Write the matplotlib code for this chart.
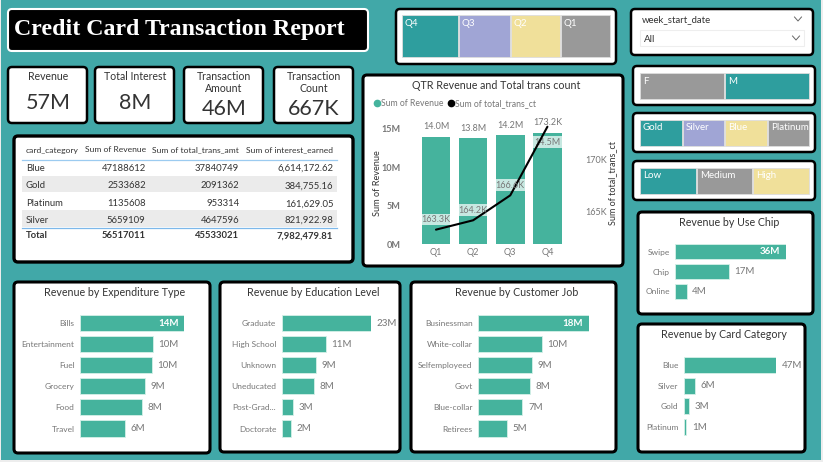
#!/usr/bin/env python3

import matplotlib
matplotlib.use("Agg")
import matplotlib.pyplot as plt
from matplotlib.lines import Line2D
from matplotlib.patches import FancyBboxPatch, Rectangle

W, H = 823, 462
TEAL_BG = "#41A8A8"
BAR = "#45B39D"
TILE_TEAL = "#2E9E9E"
TILE_PURPLE = "#A0A5D5"
TILE_YELLOW = "#F0E09A"
TILE_GREY = "#999999"
DARK = "#333333"
GREY = "#777777"

# data
quarters = ["Q1", "Q2", "Q3", "Q4"]
qtr_revenue = [14.0, 13.8, 14.2, 14.5]
qtr_trans_ct = [163.3, 164.2, 166.6, 173.2]

table_header = ["card_category", "Sum of Revenue", "Sum of total_trans_amt", "Sum of interest_earned"]
table_cards = ["Blue", "Gold", "Platinum", "Silver"]
table_revenue = [47188612, 2533682, 1135608, 5659109]
table_amount = [37840749, 2091362, 953314, 4647596]
table_interest = [6614172.62, 384755.16, 161629.05, 821922.98]
total_revenue = 56517011
total_amount = 45533021
total_interest = 7982479.81

kpi_names = ["Revenue", "Total Interest", "Transaction\nAmount", "Transaction\nCount"]
kpi_values = ["57M", "8M", "46M", "667K"]

expenditure = ["Bills", "Entertainment", "Fuel", "Grocery", "Food", "Travel"]
expenditure_rev = [14.0, 9.8, 9.7, 8.8, 8.4, 6.1]
education = ["Graduate", "High School", "Unknown", "Uneducated", "Post-Grad...", "Doctorate"]
education_rev = [23.0, 11.4, 8.8, 8.4, 2.9, 2.4]
jobs = ["Businessman", "White-collar", "Selfemployeed", "Govt", "Blue-collar", "Retirees"]
jobs_rev = [18.0, 10.4, 8.7, 8.4, 7.2, 4.7]
use_chip = ["Swipe", "Chip", "Online"]
use_chip_rev = [36.0, 17.4, 3.7]
card_cat = ["Blue", "Silver", "Gold", "Platinum"]
card_cat_rev = [47.2, 5.7, 2.6, 1.1]

plt.rcParams["font.family"] = ["Lato", "DejaVu Sans"]

fig = plt.figure(figsize=(W / 100, H / 100), dpi=100, facecolor="#EDEDED")
bg = fig.add_axes([0, 0, 1, 1], zorder=0)
bg.set_xlim(0, W)
bg.set_ylim(H, 0)
bg.axis("off")


def px_axes(x0, y0, x1, y1):
    ax = fig.add_axes([x0 / W, 1 - y1 / H, (x1 - x0) / W, (y1 - y0) / H], zorder=2)
    ax.patch.set_alpha(0)
    return ax


def panel(x0, y0, x1, y1, lw=2.2, edge="black", face="white", r=4):
    bg.add_patch(FancyBboxPatch((x0 + r, y0 + r), x1 - x0 - 2 * r, y1 - y0 - 2 * r,
                                boxstyle=f"round,pad={r},rounding_size={r}",
                                fc=face, ec=edge, lw=lw))


def tiles(x_edges, y0, y1, names, colors):
    for i, name in enumerate(names):
        bg.add_patch(Rectangle((x_edges[i], y0), x_edges[i + 1] - x_edges[i] - 1, y1 - y0,
                               fc=colors[i], ec="#DDDDDD", lw=0.6))
        bg.text(x_edges[i] + 3, y0 + 8, name, color="white", fontsize=7, va="center")


def chevron(x, y):
    bg.plot([x - 3.5, x, x + 3.5], [y - 2, y + 2, y - 2], color="#666666", lw=0.7)


def bar_panel(box, title, title_x, cats, vals, x0, x_max, y_first, y_last, inside_first=False):
    panel(*box)
    bg.text(title_x, box[1] + 10.5, title, color=DARK, fontsize=7.7, ha="center", va="center")
    n = len(cats)
    step = (y_last - y_first) / (n - 1)
    ax = px_axes(x0, y_first - step / 2, x_max, y_last + step / 2)
    ax.barh(range(n), vals, height=0.76, color=BAR, edgecolor="#D5F0E8", linewidth=0.6)
    ax.set_xlim(0, max(vals))
    ax.set_ylim(n - 0.5, -0.5)
    ax.set_yticks(range(n), cats)
    ax.set_xticks([])
    ax.tick_params(axis="y", length=0, pad=4, labelsize=6, labelcolor=GREY)
    for s in ax.spines.values():
        s.set_visible(False)
    for i, v in enumerate(vals):
        if i == 0 and inside_first:
            ax.annotate(f"{v:.0f}M", (v, i), xytext=(-4, 0), textcoords="offset points",
                        ha="right", va="center", color="white", fontsize=7, fontweight="bold")
        else:
            ax.annotate(f"{v:.0f}M", (v, i), xytext=(4, 0), textcoords="offset points",
                        ha="left", va="center", color=GREY, fontsize=7)


def draw_header():
    panel(8, 9, 368, 51, lw=1.5, edge="white", face="black")
    bg.text(14, 30, "Credit Card Transaction Report", color="white", fontsize=17.2,
            fontweight="bold", family="Liberation Serif", va="center")


def draw_kpis():
    lefts = [8, 95, 184, 274]
    for x, name, value in zip(lefts, kpi_names, kpi_values):
        panel(x, 67, x + 79, 123, lw=1.8)
        two_lines = "\n" in name
        bg.text(x + 40, 82.5 if two_lines else 76, name, color=DARK, fontsize=7.6, ha="center",
                va="center", linespacing=1.15)
        bg.text(x + 40, 109 if two_lines else 103, value, color=DARK, fontsize=15.5, ha="center",
                va="center")


def draw_table():
    panel(14, 136, 353, 262, lw=2.4)
    right = [145.7, 239.3, 333.3]
    rows = [168.5, 185.7, 203.7, 220.3]
    bg.text(25.7, 150, table_header[0], color=DARK, fontsize=6.1, va="center")
    for x, name in zip(right, table_header[1:]):
        bg.text(x, 150, name, color=DARK, fontsize=6.1, ha="right", va="center")
    for y0, y1 in [(176, 192), (210, 227)]:
        bg.add_patch(Rectangle((22, y0), 314.7, y1 - y0, fc="#EBEBEB", ec="none"))
    bg.plot([22, 336.7], [160.3, 160.3], color="#9CCBF0", lw=0.9)
    bg.plot([22, 336.7], [227.7, 227.7], color="#7DB8EA", lw=0.9)
    for i, y in enumerate(rows):
        bg.text(25.7, y, table_cards[i], color=DARK, fontsize=6.8, va="center")
        bg.text(right[0], y, str(table_revenue[i]), color=DARK, fontsize=6.8, ha="right", va="center")
        bg.text(right[1], y, str(table_amount[i]), color=DARK, fontsize=6.8, ha="right", va="center")
        bg.text(right[2], y, f"{table_interest[i]:,.2f}", color=DARK, fontsize=6.8, ha="right", va="center")
    bg.text(25.7, 235.7, "Total", color=DARK, fontsize=6.8, fontweight="bold", va="center")
    bg.text(right[0], 235.7, str(total_revenue), color=DARK, fontsize=6.8, fontweight="bold", ha="right", va="center")
    bg.text(right[1], 235.7, str(total_amount), color=DARK, fontsize=6.8, fontweight="bold", ha="right", va="center")
    bg.text(right[2], 235.7, f"{total_interest:,.2f}", color=DARK, fontsize=6.8, fontweight="bold", ha="right", va="center")


def draw_slicers():
    panel(396, 9, 616, 64, lw=1.8)
    tiles([402, 459, 511, 561, 611], 15, 57, ["Q4", "Q3", "Q2", "Q1"],
          [TILE_TEAL, TILE_PURPLE, TILE_YELLOW, TILE_GREY])

    panel(631, 9, 813, 55, lw=1.8)
    bg.text(642, 20, "week_start_date", color=DARK, fontsize=6.9, va="center")
    chevron(798, 19)
    bg.add_patch(Rectangle((640, 30), 164, 16, fc="white", ec="#EEEEEE", lw=0.8))
    bg.text(644, 39.5, "All", color=DARK, fontsize=7, va="center")
    chevron(796, 38)

    panel(633, 66, 815, 105, lw=1.8)
    tiles([640, 725, 810], 73, 99, ["F", "M"], [TILE_GREY, TILE_TEAL])
    panel(633, 113, 815, 152, lw=1.8)
    tiles([640, 683, 725, 768, 810], 120, 146, ["Gold", "Silver", "Blue", "Platinum"],
          [TILE_TEAL, TILE_PURPLE, TILE_YELLOW, TILE_GREY])
    panel(633, 161, 815, 200, lw=1.8)
    tiles([640, 697, 753, 810], 168, 194, ["Low", "Medium", "High"],
          [TILE_TEAL, TILE_GREY, TILE_YELLOW])


def draw_combo():
    panel(363, 75, 623, 266, lw=2.2)
    bg.text(496, 85.5, "QTR Revenue and Total trans count", color=DARK, fontsize=7.65, ha="center", va="center")

    ax = px_axes(417.4, 121.3, 566, 244)
    x = list(range(len(quarters)))
    ax.bar(x, qtr_revenue, width=0.77, color=BAR)
    ax.set_xlim(-0.5, 3.5)
    ax.set_ylim(0, 16)
    ax.set_xticks(x, quarters)
    ax.set_yticks([0, 5, 10, 15], ["0M", "5M", "10M", "15M"])
    ax.tick_params(axis="x", length=0, pad=3, labelsize=6.6, labelcolor=GREY)
    ax.tick_params(axis="y", length=0, pad=12, labelsize=6.6, labelcolor=GREY)
    for label in ax.get_yticklabels():
        label.set_fontweight("bold")
    for s in ax.spines.values():
        s.set_visible(False)
    ax.set_ylabel("Sum of Revenue", color=DARK, fontsize=6.6)
    ax.yaxis.set_label_coords(-0.235, 0.5)

    for i, v in enumerate(qtr_revenue[:3]):
        ax.annotate(f"{v:.1f}M", (i, v), xytext=(0, 7), textcoords="offset points",
                    ha="center", va="center", color=GREY, fontsize=6.5)
    # Q4 label sits inside the bar, the line label takes the place above it
    ax.bar(3, 1.56, bottom=12.5, width=0.77, color="white", alpha=0.7)
    ax.text(3, 13.3, f"{qtr_revenue[3]:.1f}M", ha="center", va="center", color=GREY, fontsize=6.5)

    ax2 = ax.twinx()
    ax2.patch.set_alpha(0)
    ax2.set_ylim(161.92, 173.72)
    ax2.set_yticks([165, 170], ["165K", "170K"])
    ax2.tick_params(axis="y", length=0, pad=14, labelsize=6.5, labelcolor=GREY)
    for s in ax2.spines.values():
        s.set_visible(False)
    ax2.set_ylabel("Sum of total_trans_ct", color=DARK, fontsize=6.5)
    ax2.yaxis.set_label_coords(1.285, 0.5)

    for i, v in enumerate(qtr_trans_ct[:3]):
        ax2.bar(i, 1.15, bottom=v + 0.4, width=0.77, color="white", alpha=0.7)
        ax2.text(i, v + 0.97, f"{v:.1f}K", ha="center", va="center", color=GREY, fontsize=6.5)
    ax2.text(3, qtr_trans_ct[3] + 0.45, f"{qtr_trans_ct[3]:.1f}K", ha="center", va="center",
             color=GREY, fontsize=6.5, clip_on=False)
    ax2.plot(x, qtr_trans_ct, color="black", lw=1.5, solid_capstyle="round", clip_on=False)

    handles = [Line2D([], [], marker="o", ls="", color=BAR, ms=4.5),
               Line2D([], [], marker="o", ls="", color="black", ms=4.5)]
    fig.legend(handles, ["Sum of Revenue", "Sum of total_trans_ct"], ncol=2, frameon=False,
               loc="center left", bbox_to_anchor=(370 / W, 1 - 104 / H), fontsize=6.2,
               labelcolor=GREY, handlelength=0.6, handletextpad=0.2, columnspacing=0.5, borderpad=0)


def main():
    bg.add_patch(Rectangle((1, 0), 820, 460, fc=TEAL_BG, ec="none"))
    draw_header()
    draw_kpis()
    draw_table()
    draw_slicers()
    draw_combo()
    bar_panel((14, 282, 210, 453), "Revenue by Expenditure Type", 115, expenditure, expenditure_rev,
              80, 184, 323, 428.5, inside_first=True)
    bar_panel((220, 282, 400, 452), "Revenue by Education Level", 313, education, education_rev,
              281.7, 370.7, 323, 428.5)
    bar_panel((411, 282, 616, 452), "Revenue by Customer Job", 517, jobs, jobs_rev,
              478.3, 588.7, 323, 428.5, inside_first=True)
    bar_panel((638, 212, 813, 314), "Revenue by Use Chip", 729, use_chip, use_chip_rev,
              675.3, 786, 251.7, 291.3, inside_first=True)
    bar_panel((638, 324, 805, 452), "Revenue by Card Category", 724, card_cat, card_cat_rev,
              684, 776, 365, 427)
    fig.savefig("out.png", dpi=100, facecolor=fig.get_facecolor())


if __name__ == "__main__":
    main()
